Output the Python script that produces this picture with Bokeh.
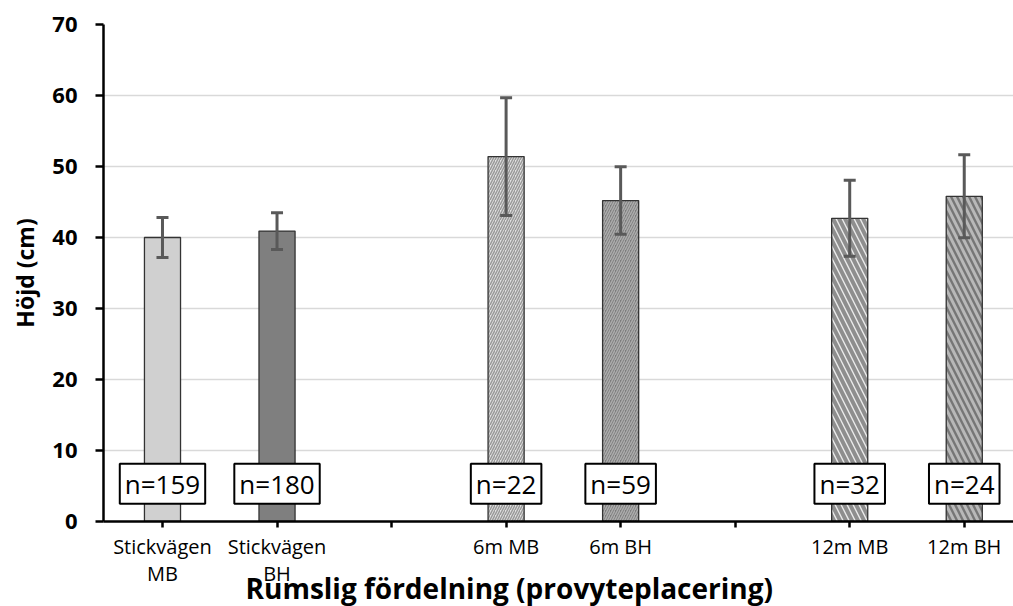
from bokeh.plotting import figure
from bokeh.models import (ColumnDataSource, Range1d, FixedTicker, Whisker, TeeHead, Label, Title)
from bokeh.embed import file_html
from bokeh.resources import INLINE

# Groups of sample placements, two categories in each
groups = [
    ["Stickvägen\nMB", "Stickvägen\nBH"],
    ["6m MB", "6m BH"],
    ["12m MB", "12m BH"],
]
# Mean height (cm), error (cm) and sample size per category
heights = [40.0, 40.9, 51.4, 45.2, 42.7, 45.8]
errors = [2.8, 2.6, 8.3, 4.75, 5.35, 5.85]
n_values = [159, 180, 22, 59, 32, 24]
y_ticks = [0, 10, 20, 30, 40, 50, 60, 70]

# Bar appearance per category
fills = ["#d0d0d0", "#7f7f7f", "#e2e2e2", "#7c7c7c", "#ebebeb", "#767676"]
hatches = [" ", " ", "/", "/", "\\", "\\"]
hatch_colors = ["#000000", "#000000", "#9a9a9a", "#acacac", "#8e8e8e", "#b8b8b8"]
hatch_scales = [4, 4, 5, 5, 12, 12]
hatch_weights = [1, 1, 1.5, 1.5, 4, 3]

# Each group occupies its slots plus one empty slot in between
labels, xs, tick_labels = [], [], {}
slot = 0
for gi, g in enumerate(groups):
    for name in g:
        labels.append(name)
        xs.append(slot)
        tick_labels[slot] = name
        slot += 1
    if gi < len(groups) - 1:
        tick_labels[slot] = ""
        slot += 1

src = ColumnDataSource(dict(
    x=xs, top=heights, label=labels,
    upper=[h + e for h, e in zip(heights, errors)],
    lower=[h - e for h, e in zip(heights, errors)],
    fill=fills, hatch=hatches, hcolor=hatch_colors,
    hscale=hatch_scales, hweight=hatch_weights,
))

FONT = "Open Sans"

p = figure(width=1013, height=606, output_backend="svg", toolbar_location=None,
           x_range=Range1d(-0.515, 7.43), y_range=Range1d(0, 70),
           min_border_left=103, min_border_right=0, min_border_top=24,
           min_border_bottom=85)
p.outline_line_color = None
p.background_fill_color = "white"

p.vbar(x="x", top="top", width=0.315, bottom=0, source=src,
       fill_color="fill", line_color="#333333", line_width=1.3,
       hatch_pattern="hatch", hatch_color="hcolor",
       hatch_scale="hscale", hatch_weight="hweight")

err = Whisker(source=src, base="x", upper="upper", lower="lower",
              line_color="#595959", line_width=3, level="overlay",
              upper_head=TeeHead(size=12, line_color="#595959", line_width=3),
              lower_head=TeeHead(size=12, line_color="#595959", line_width=3))
p.add_layout(err)

# Sample size boxes near the base of each bar
for x, n in zip(xs, n_values):
    p.add_layout(Label(x=x, y=5.3, text=f"n={n}", text_align="center",
                       text_baseline="middle", text_font=FONT,
                       text_font_size="26px", text_color="black",
                       background_fill_color="white",
                       border_line_color="black", border_line_width=2,
                       padding=dict(left=5, right=5, top=2, bottom=2)))

# Axes
p.xgrid.visible = False
p.ygrid.grid_line_color = "#d9d9d9"
p.ygrid.grid_line_width = 1.5
p.yaxis.ticker = FixedTicker(ticks=y_ticks)
p.xaxis.ticker = FixedTicker(ticks=list(tick_labels.keys()))
p.xaxis.major_label_overrides = tick_labels

for ax in (p.xaxis[0], p.yaxis[0]):
    ax.axis_line_color = "black"
    ax.axis_line_width = 2.5
    ax.major_tick_line_color = "black"
    ax.major_tick_line_width = 2.5
    ax.major_tick_in = 0
    ax.minor_tick_line_color = None
    ax.major_label_text_font = FONT
    ax.major_label_text_color = "black"

p.yaxis.major_tick_out = 8
p.yaxis.major_label_standoff = 18
p.yaxis.major_label_text_font_size = "22px"
p.yaxis.major_label_text_font_style = "bold"
p.yaxis.axis_label = "Höjd (cm)"
p.yaxis.axis_label_standoff = 8
p.yaxis.axis_label_text_font = FONT
p.yaxis.axis_label_text_font_size = "23px"
p.yaxis.axis_label_text_font_style = "bold"
p.yaxis.axis_label_text_color = "black"

p.xaxis.major_tick_out = 6
p.xaxis.major_label_standoff = 5
p.xaxis.major_label_text_font_size = "20px"
p.xaxis.major_label_text_line_height = 1.02

# Horizontal axis title, tucked under the category labels
p.add_layout(Title(text="Rumslig fördelning (provyteplacering)", align="left",
                   offset=142, standoff=-44, vertical_align="top",
                   text_font=FONT, text_font_size="28px",
                   text_font_style="bold", text_color="black"), "below")

open("out.html", "w").write(file_html(p, INLINE))
